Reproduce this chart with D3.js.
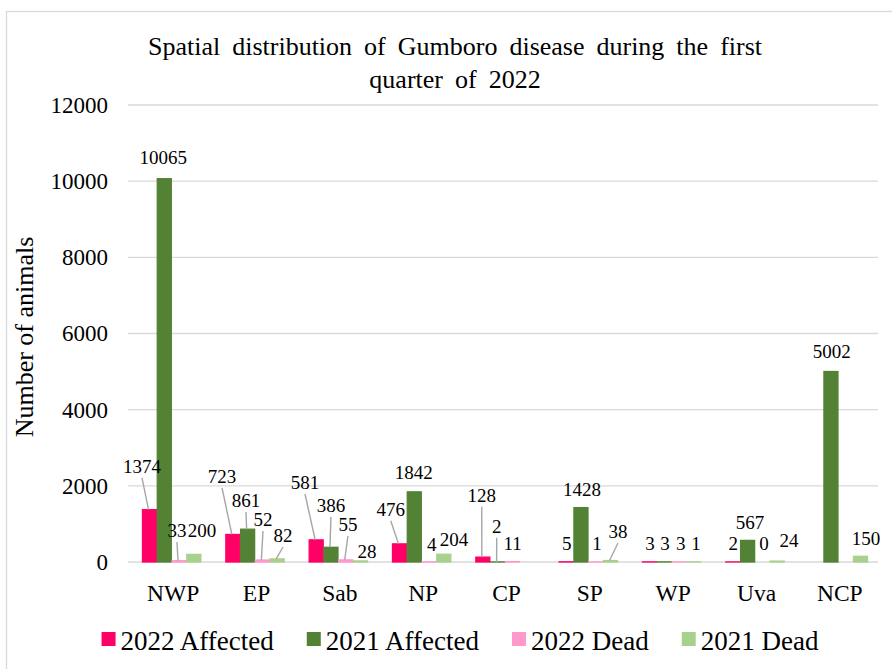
<!DOCTYPE html>
<html>
<head>
<meta charset="utf-8">
<script src="https://cdn.jsdelivr.net/npm/d3@7"></script>
<style>
  html, body { margin: 0; padding: 0; background: #fff; }
  svg text { font-family: "Liberation Serif", "Times New Roman", serif; fill: #000; }
</style>
</head>
<body>
<div id="container"></div>
<script>
// data
const regions = ["NWP", "EP", "Sab", "NP", "CP", "SP", "WP", "Uva", "NCP"];
const seriesNames = ["2022 Affected", "2021 Affected", "2022 Dead", "2021 Dead"];
const affected2022 = [1374, 723, 581, 476, 128, 5, 3, 2, null];
const affected2021 = [10065, 861, 386, 1842, 2, 1428, 3, 567, 5002];
const dead2022 = [33, 52, 55, 4, 11, 1, 3, 0, null];
const dead2021 = [200, 82, 28, 204, null, 38, 1, 24, 150];
const yTicks = [0, 2000, 4000, 6000, 8000, 10000, 12000];

const colors = ["#FF0066", "#548235", "#FF99CC", "#A9D18E"];

// label nudges [dx, dy, leader line] per series, per region (hand placed labels)
const labelNudge = [
  [[-7.5, -24.7, 1], [-10.8, -39.5, 1], [-11.2, -38.9, 1], [-8.8, -16.2, 1], [-1.1, -43.4, 1], [0.5, 0.2, 0], [0.5, 0, 0], [0.5, 0, 0], null],
  [[-1, -2.7, 0], [-1.6, -10.2, 1], [0, -23.3, 1], [-0.5, -0.9, 0], [-0.9, -17.2, 1], [1, 0.4, 0], [0.7, 0, 0], [2.4, 0.6, 0], [0.7, -1.2, 0]],
  [[-2.1, -11.7, 1], [0.6, -22, 1], [2.2, -16.9, 1], [2.6, 0.9, 0], [0.3, 0.4, 0], [1.2, 0, 0], [1.6, 0, 0], [1.6, 0, 0], null],
  [[8.2, -5.4, 0], [5.9, -4.9, 1], [6.5, 9.1, 0], [10.2, 3.8, 0], null, [7.5, -10.6, 1], [2.2, 0, 0], [11.9, -2.4, 0], [5.5, 0.7, 0]]
];

const width = 892, height = 669;
const plot = { left: 130, right: 880, top: 105, bottom: 562 };

const series = [affected2022, affected2021, dead2022, dead2021];
const rows = regions.map((r, i) => ({
  region: r,
  values: series.map((s, k) => ({ key: k, value: s[i], nudge: labelNudge[k][i] }))
}));

const svg = d3.select("#container").append("svg")
  .attr("width", width)
  .attr("height", height);

// chart frame
svg.append("rect")
  .attr("x", 6.5).attr("y", 11.5)
  .attr("width", 900).attr("height", 680)
  .attr("fill", "none")
  .attr("stroke", "#d9d9d9")
  .attr("stroke-width", 1.3);

const x0 = d3.scaleBand()
  .domain(regions)
  .range([plot.left, plot.right])
  .paddingInner(0.3)
  .paddingOuter(0.15);

const x1 = d3.scaleBand()
  .domain(d3.range(seriesNames.length))
  .range([0, x0.bandwidth()])
  .paddingInner(0.05);

const y = d3.scaleLinear()
  .domain([0, 12000])
  .range([plot.bottom, plot.top]);

// grid
svg.append("g")
  .selectAll("line")
  .data(yTicks)
  .join("line")
  .attr("x1", plot.left - 2)
  .attr("x2", plot.right - 2)
  .attr("y1", d => y(d))
  .attr("y2", d => y(d))
  .attr("stroke", "#d9d9d9")
  .attr("stroke-width", 1.3);

// y axis labels
const yAxis = svg.append("g")
  .attr("transform", `translate(${plot.left - 10},0)`)
  .call(d3.axisLeft(y).tickValues(yTicks).tickSize(0).tickPadding(12).tickFormat(d3.format("d")));
yAxis.select(".domain").remove();
yAxis.selectAll("text")
  .style("font-size", "23px")
  .style("font-family", "Liberation Serif, Times New Roman, serif");

// x axis labels
const xAxis = svg.append("g")
  .attr("transform", `translate(1.5,${plot.bottom})`)
  .call(d3.axisBottom(x0).tickSize(0).tickPadding(22));
xAxis.select(".domain").remove();
xAxis.selectAll("text")
  .style("font-size", "23.5px")
  .style("font-family", "Liberation Serif, Times New Roman, serif");

// bars
const groups = svg.append("g")
  .selectAll("g")
  .data(rows)
  .join("g")
  .attr("transform", d => `translate(${x0(d.region)},0)`);

groups.selectAll("rect")
  .data(d => d.values.filter(v => v.value != null && v.value > 0))
  .join("rect")
  .attr("x", d => x1(d.key))
  .attr("width", x1.bandwidth())
  .attr("y", d => y(d.value))
  .attr("height", d => y(0) - y(d.value))
  .attr("fill", d => colors[d.key])
  .attr("stroke", d => colors[d.key])
  .attr("stroke-width", 1.3);

// data labels with leader lines
const labelled = groups.selectAll("g.lab")
  .data(d => d.values.filter(v => v.value != null))
  .join("g")
  .attr("class", "lab");

labelled.each(function (d) {
  const g = d3.select(this);
  const cx = x1(d.key) + x1.bandwidth() / 2;
  const top = y(d.value);
  const lx = cx + d.nudge[0];
  const ly = top - 12 + d.nudge[1];
  if (d.nudge[2]) {
    g.append("line")
      .attr("x1", lx).attr("y1", ly + 5)
      .attr("x2", cx - 1).attr("y2", top)
      .attr("stroke", "#a6a6a6")
      .attr("stroke-width", 1.4);
  }
  g.append("text")
    .attr("x", lx)
    .attr("y", ly)
    .attr("text-anchor", "middle")
    .style("font-size", "19px")
    .text(d.value);
});

// y title
svg.append("text")
  .attr("transform", "translate(33,337) rotate(-90)")
  .attr("text-anchor", "middle")
  .style("font-size", "26px")
  .text("Number of animals");

// title
const title = svg.append("text")
  .attr("text-anchor", "middle")
  .style("font-size", "26px")
  .style("word-spacing", "5.5px");
title.append("tspan").attr("x", 455).attr("y", 55)
  .text("Spatial distribution of Gumboro disease during the first");
title.append("tspan").attr("x", 455).attr("y", 88)
  .text("quarter of 2022");

// legend
const legend = svg.append("g");
let lxPos = 0;
seriesNames.forEach((name, i) => {
  const it = legend.append("g");
  it.append("rect")
    .attr("x", 0).attr("y", 632)
    .attr("width", 14).attr("height", 14)
    .attr("fill", colors[i]);
  const t = it.append("text")
    .attr("x", 19).attr("y", 650)
    .style("font-size", "27px")
    .text(name);
  const w = 19 + t.node().getComputedTextLength();
  it.attr("transform", `translate(${lxPos},0)`);
  lxPos += w + 33;
});
const legendWidth = lxPos - 33;
legend.attr("transform", `translate(${460 - legendWidth / 2},0)`);
</script>
</body>
</html>
